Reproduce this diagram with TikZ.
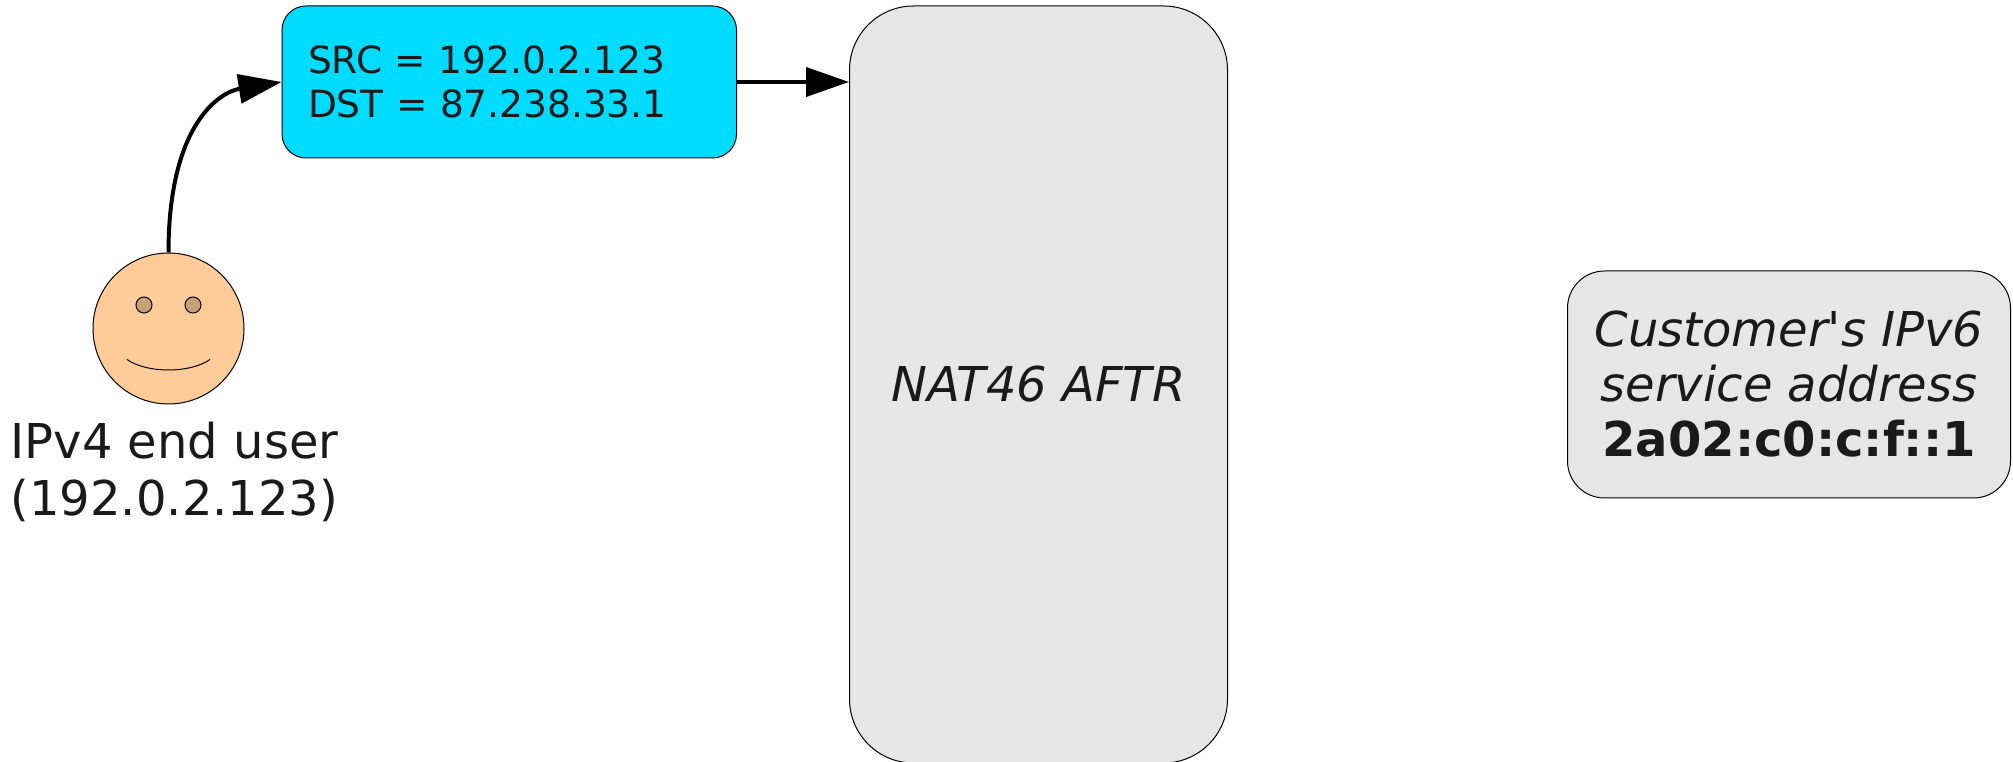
\documentclass[tikz,border=0pt]{standalone}
\usepackage{fontspec}
\setmainfont{DejaVu Sans}
\usepackage{tikz}
\usetikzlibrary{positioning,arrows.meta}

\definecolor{inktext}{HTML}{1A1A1A}
\definecolor{packetblue}{HTML}{00DCFF}
\definecolor{boxgrey}{HTML}{E6E6E6}
\definecolor{skin}{HTML}{FFCC99}
\definecolor{eyebrown}{HTML}{C8A078}

\tikzset{
  packetbox/.style={draw, line width=1pt, fill=packetblue, rounded corners=24pt, text=inktext,
    minimum height=152pt, text width=402.5pt, inner xsep=26pt, inner ysep=0pt, align=left,
    font=\fontsize{37.5}{44}\selectfont},
  greybox/.style={draw, line width=1pt, fill=boxgrey, text=inktext, align=center,
    font=\fontsize{48}{55}\selectfont\itshape},
  flow/.style={line width=4pt, -{Triangle[length=43pt,width=29pt]}},
  faceeye/.style={draw, circle, line width=1pt, fill=eyebrown, minimum size=16pt, inner sep=0pt}
}

\begin{document}
\begin{tikzpicture}
  \useasboundingbox (0,0) rectangle (2013pt,761pt);

  \node (packet) [packetbox] at (509.25pt,679pt)
    {SRC = 192.0.2.123\\DST = 87.238.33.1};
  \node (aftr) [greybox, minimum width=378pt, minimum height=757pt, rounded corners=64pt,
    right=112pt of packet.north east, anchor=north west] {NAT46 AFTR};
  \node (service) [greybox, minimum width=443pt, minimum height=227pt, rounded corners=37pt,
    right=339pt of aftr.east, anchor=west]
    {Customer\textquotesingle s IPv6\\service address\\\textbf{\textup{2a02:c0:c:f::1}}};

  \node (face) [draw, circle, line width=1pt, fill=skin, minimum size=151pt, inner sep=0pt,
    below=94pt of packet.south west, xshift=-113pt] {};
  \node (eyeleft) [faceeye, above left=23.5pt and 24.5pt of face.center, anchor=center] {};
  \node (eyeright) [faceeye, above right=23.5pt and 24.5pt of face.center, anchor=center] {};
  \coordinate [below left=31pt and 41.5pt of face.center] (smileleft);
  \coordinate [below right=31pt and 41.5pt of face.center] (smileright);
  \draw[line width=1pt] (smileleft) .. controls +(20pt,-14pt) and +(-20pt,-14pt) .. (smileright);

  \node (user) [text=inktext, align=left, inner sep=0pt, font=\fontsize{48}{57}\selectfont,
    below=17pt of face.south, xshift=6pt] {IPv4 end user\\(192.0.2.123)};

  \draw[flow] (face.north) .. controls +(0pt,128pt) and +(-62pt,-10pt) .. (packet.west);
  \draw[flow] (packet.east) -- (packet.east -| aftr.west);
\end{tikzpicture}
\end{document}
